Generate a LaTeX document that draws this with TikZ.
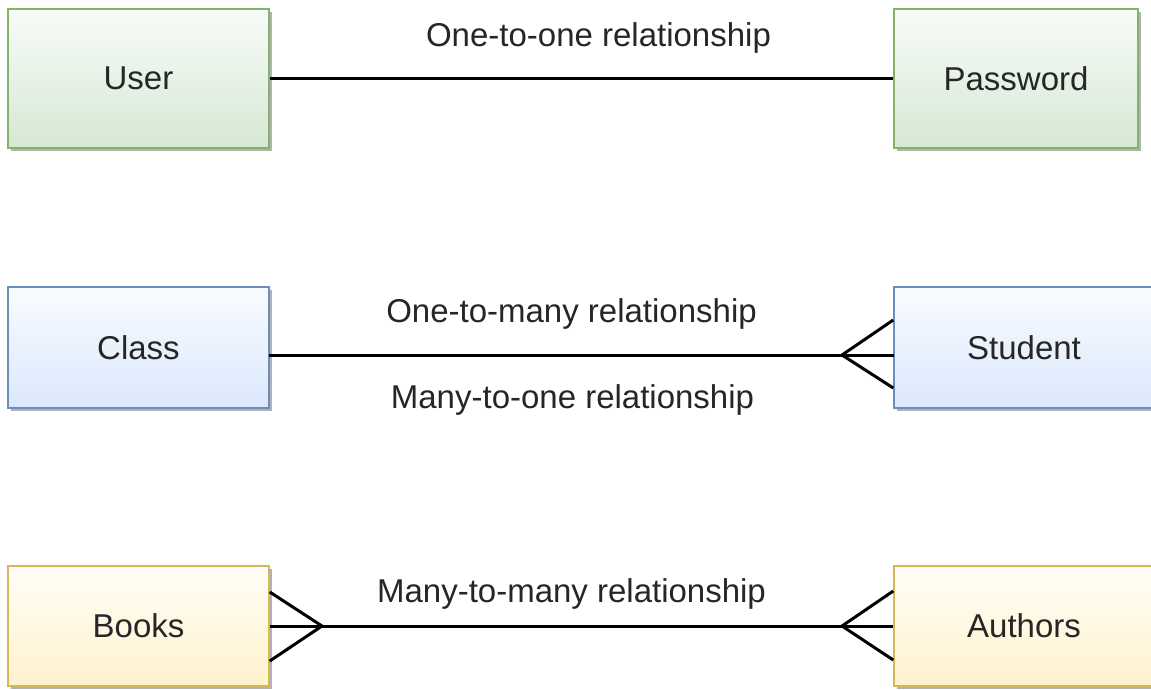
\documentclass[tikz,border=0pt]{standalone}
\usepackage{fontspec}
\setmainfont{Liberation Sans}
\usetikzlibrary{shadows}

\definecolor{grnfill}{HTML}{D5E8D4}
\definecolor{grnline}{HTML}{82B366}
\definecolor{blufill}{HTML}{DAE8FC}
\definecolor{bluline}{HTML}{6C8EBF}
\definecolor{ylwfill}{HTML}{FFF2CC}
\definecolor{ylwline}{HTML}{D6B656}
\definecolor{txtgray}{HTML}{262626}

\begin{document}
\begin{tikzpicture}[x=1pt,y=-1pt,
  font=\fontsize{33}{40}\selectfont, text=txtgray,
  entity/.style={rectangle, inner sep=0pt, line width=1.5pt,
    drop shadow={shadow xshift=3pt, shadow yshift=-3pt, fill=black!30, opacity=1}},
  green/.style={entity, draw=grnline, top color=grnfill!15, bottom color=grnfill},
  blue/.style={entity, draw=bluline, top color=blufill!15, bottom color=blufill},
  yellow/.style={entity, draw=ylwline, top color=ylwfill!15, bottom color=ylwfill},
  rel/.style={line width=3pt, black},
  lbl/.style={anchor=base, inner sep=0pt}]
\clip (0,0) rectangle (1151,689);
\useasboundingbox (0,0) rectangle (1151,689);

% one-to-one
\node[green, minimum width=261pt, minimum height=139pt] (user) at (138.5,78.5) {User};
\node[green, minimum width=244pt, minimum height=139pt] (password) at (1016,78.5) {Password};
\draw[rel] (user.east) -- (password.west);
\node[lbl] (onetoone) at (598.5,46) {One-to-one relationship};

% one-to-many
\node[blue, minimum width=261pt, minimum height=121pt] (class) at (138.5,347.5) {Class};
\node[blue, minimum width=260pt, minimum height=121pt] (student) at (1024,347.5) {Student};
\coordinate (c1) at (269,355);
\coordinate (s1) at (842,355);
\draw[rel] (c1) -- (894,355);
\draw[rel] (student.west |- 0,320) -- (s1) -- (student.west |- 0,388);
\node[lbl] (onetomany) at (571.5,322) {One-to-many relationship};
\node[lbl] (manytoone) at (572.5,408) {Many-to-one relationship};

% many-to-many
\node[yellow, minimum width=261pt, minimum height=120pt] (books) at (138.5,626) {Books};
\node[yellow, minimum width=260pt, minimum height=120pt] (authors) at (1024,626) {Authors};
\coordinate (b1) at (322,626);
\coordinate (a1) at (842,626);
\draw[rel] (books.east) -- (authors.west);
\draw[rel] (books.east |- 0,592) -- (b1) -- (books.east |- 0,661);
\draw[rel] (authors.west |- 0,591) -- (a1) -- (authors.west |- 0,660);
\node[lbl] (manytomany) at (571.5,602) {Many-to-many relationship};
\end{tikzpicture}
\end{document}
